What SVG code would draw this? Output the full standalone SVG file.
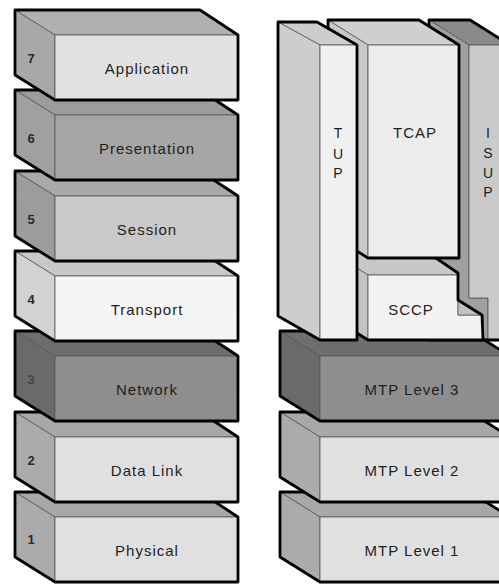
<svg xmlns="http://www.w3.org/2000/svg" width="499" height="584" viewBox="0 0 499 584">
<style>
.face{stroke:#555;stroke-width:0.8;stroke-linejoin:round}
.sil{fill:none;stroke:#000;stroke-width:2.8;stroke-linejoin:round}
.lbl{font-family:"Liberation Sans",Arial,sans-serif;font-size:15px;letter-spacing:1px;fill:#1e1e1e;text-anchor:middle}
.num{font-family:"Liberation Sans",Arial,sans-serif;font-size:13px;font-weight:bold;fill:#2a2a2a;text-anchor:middle}
.vl{font-family:"Liberation Sans",Arial,sans-serif;font-size:14px;fill:#1e1e1e;text-anchor:middle}
</style>
<defs>
<polygon id="Ltop" points="15,0 200,0 238,25 55,25"/>
<polygon id="Lside" points="15,0 55,25 55,90 15,65"/>
<rect id="Lfront" x="55" y="25" width="183" height="65"/>
<polygon id="Lsil" points="15,0 200,0 238,25 238,90 55,90 15,65"/>
<polygon id="Rtop" points="280,0 470,0 510,25 320,25"/>
<polygon id="Rside" points="280,0 320,25 320,90 280,65"/>
<rect id="Rfront" x="320" y="25" width="190" height="65"/>
<polygon id="Rsil" points="280,0 470,0 510,25 510,90 320,90 280,65"/>
</defs>
<rect width="499" height="584" fill="#fff"/>

<!-- Left column (OSI), drawn bottom to top -->
<g id="layer1" transform="translate(0,492)">
<use href="#Ltop" class="face" fill="#a8a8a8"/><use href="#Lside" class="face" fill="#ababab"/><use href="#Lfront" class="face" fill="#e0e0e0"/><use href="#Lsil" class="sil"/>
<text class="num" x="31" y="52">1</text><text class="lbl" x="147" y="64">Physical</text>
</g>
<g id="layer2" transform="translate(0,412)">
<use href="#Ltop" class="face" fill="#a8a8a8"/><use href="#Lside" class="face" fill="#ababab"/><use href="#Lfront" class="face" fill="#e0e0e0"/><use href="#Lsil" class="sil"/>
<text class="num" x="31" y="53">2</text><text class="lbl" x="147" y="64">Data Link</text>
</g>
<g id="layer3" transform="translate(0,331)">
<use href="#Ltop" class="face" fill="#6e6e6e"/><use href="#Lside" class="face" fill="#6a6a6a"/><use href="#Lfront" class="face" fill="#8e8e8e"/><use href="#Lsil" class="sil"/>
<text class="num" x="31" y="53" style="fill:#474747">3</text><text class="lbl" x="147" y="64">Network</text>
</g>
<g id="layer4" transform="translate(0,251)">
<use href="#Ltop" class="face" fill="#c8c8c8"/><use href="#Lside" class="face" fill="#d2d2d2"/><use href="#Lfront" class="face" fill="#f5f5f5"/><use href="#Lsil" class="sil"/>
<text class="num" x="31" y="53">4</text><text class="lbl" x="147" y="64">Transport</text>
</g>
<g id="layer5" transform="translate(0,171)">
<use href="#Ltop" class="face" fill="#a9a9a9"/><use href="#Lside" class="face" fill="#9c9c9c"/><use href="#Lfront" class="face" fill="#c9c9c9"/><use href="#Lsil" class="sil"/>
<text class="num" x="31" y="53">5</text><text class="lbl" x="147" y="64">Session</text>
</g>
<g id="layer6" transform="translate(0,90)">
<use href="#Ltop" class="face" fill="#9c9c9c"/><use href="#Lside" class="face" fill="#a0a0a0"/><use href="#Lfront" class="face" fill="#a6a6a6"/><use href="#Lsil" class="sil"/>
<text class="num" x="31" y="53">6</text><text class="lbl" x="147" y="64">Presentation</text>
</g>
<g id="layer7" transform="translate(0,10)">
<use href="#Ltop" class="face" fill="#b0b0b0"/><use href="#Lside" class="face" fill="#a8a8a8"/><use href="#Lfront" class="face" fill="#e2e2e2"/><use href="#Lsil" class="sil"/>
<text class="num" x="31" y="53">7</text><text class="lbl" x="147" y="64">Application</text>
</g>

<!-- Right column (SS7) -->
<g id="mtp1" transform="translate(0,492)">
<use href="#Rtop" class="face" fill="#a8a8a8"/><use href="#Rside" class="face" fill="#ababab"/><use href="#Rfront" class="face" fill="#e0e0e0"/><use href="#Rsil" class="sil"/>
<text class="lbl" x="412" y="64">MTP Level 1</text>
</g>
<g id="mtp2" transform="translate(0,412)">
<use href="#Rtop" class="face" fill="#a8a8a8"/><use href="#Rside" class="face" fill="#ababab"/><use href="#Rfront" class="face" fill="#e0e0e0"/><use href="#Rsil" class="sil"/>
<text class="lbl" x="412" y="64">MTP Level 2</text>
</g>
<g id="mtp3" transform="translate(0,331)">
<use href="#Rtop" class="face" fill="#6e6e6e"/><use href="#Rside" class="face" fill="#6a6a6a"/><use href="#Rfront" class="face" fill="#8e8e8e"/><use href="#Rsil" class="sil"/>
<text class="lbl" x="412" y="64">MTP Level 3</text>
</g>

<g id="isup">
<polygon class="face" fill="#8a8a8a" points="429,20 470,20 510,45 469,45"/>
<polygon class="face" fill="#a0a0a0" points="429,20 469,45 469,298 488,298 488,340 429,315"/>
<polygon class="face" fill="#cacaca" points="469,45 510,45 510,340 488,340 488,298 469,298"/>
<polygon class="sil" points="429,20 470,20 510,45 510,340 429,340"/>
<text class="vl" x="488" y="138">I</text>
<text class="vl" x="488" y="158">S</text>
<text class="vl" x="488" y="178">U</text>
<text class="vl" x="488" y="197">P</text>
</g>

<g id="sccp">
<polygon class="face" fill="#c8c8c8" points="328,250 424,250 458,273 458,275 368,275"/>
<polygon class="face" fill="#c4c4c4" points="328,250 368,275 368,340 328,315"/>
<polygon class="face" fill="#f2f2f2" points="368,275 458,275 458,315 483,315 483,340 368,340"/>
<polygon class="face" fill="#c0c0c0" points="458,300 482,315 458,315"/>
<polygon class="sil" points="328,250 424,250 458,273 458,300 482,315 483,340 368,340 328,315"/>
<text class="lbl" x="411" y="315">SCCP</text>
</g>

<g id="tcap">
<polygon class="face" fill="#cfcfcf" points="328,20 419,20 459,45 368,45"/>
<polygon class="face" fill="#c8c8c8" points="328,20 368,45 368,258 328,233"/>
<rect class="face" fill="#ececec" x="368" y="45" width="91" height="213"/>
<polygon class="sil" points="328,20 419,20 459,45 459,258 368,258 328,233"/>
<text class="lbl" x="415" y="138">TCAP</text>
</g>

<g id="tup">
<polygon class="face" fill="#cdcdcd" points="278,22 317,22 357,45 320,45"/>
<polygon class="face" fill="#cdcdcd" points="278,22 320,45 320,340 278,316"/>
<rect class="face" fill="#f0f0f0" x="320" y="45" width="37" height="295"/>
<polygon class="sil" points="278,22 317,22 357,45 357,340 320,340 278,316"/>
<text class="vl" x="338" y="138">T</text>
<text class="vl" x="338" y="159">U</text>
<text class="vl" x="338" y="178">P</text>
</g>

<g id="connectors"/>
</svg>
